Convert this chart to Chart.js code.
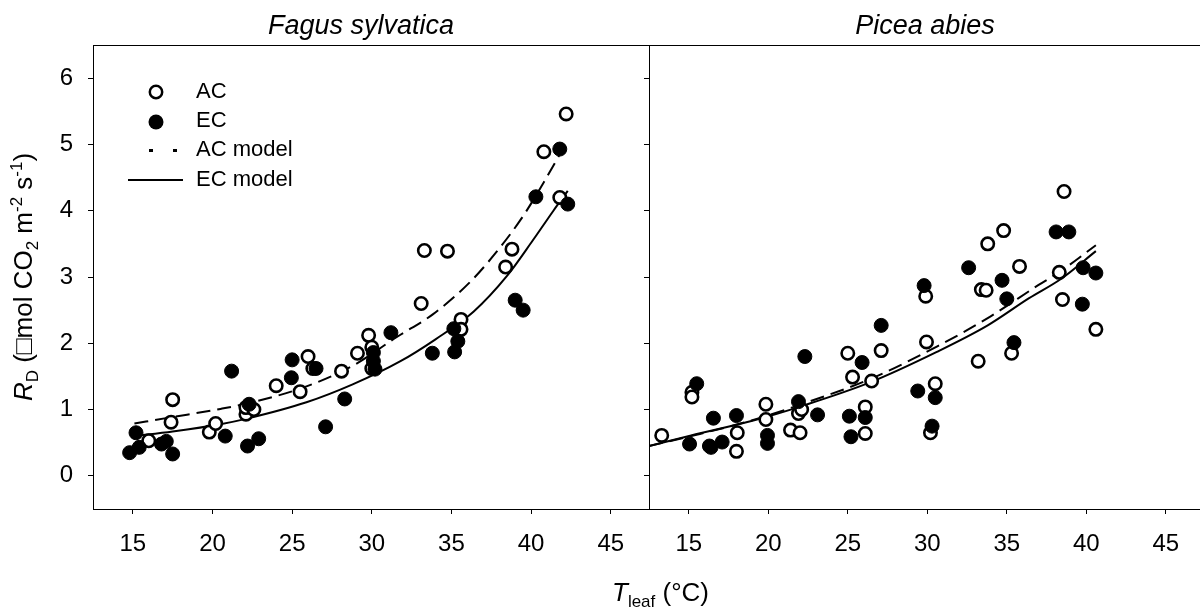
<!DOCTYPE html>
<html>
<head>
<meta charset="utf-8">
<script src="https://cdn.jsdelivr.net/npm/chart.js"></script>
<style>
html, body { margin: 0; padding: 0; background: #fff; overflow: hidden; }
#wrap { position: relative; width: 1200px; height: 608px; overflow: hidden; background: #fff; }
#wrap canvas { position: absolute; left: 0; top: 0; }
</style>
</head>
<body>
<div id="wrap">
  <canvas id="fagusChart" width="1220" height="608"></canvas>
  <canvas id="piceaChart" width="1220" height="608"></canvas>
</div>
<script>
// axis ticks (same for both panels)
const xTicks = [15, 20, 25, 30, 35, 40, 45];
const yTicks = [0, 1, 2, 3, 4, 5, 6];

// Fagus sylvatica - leaf temp (°C) vs dark respiration
const fagusAcT = [16.0, 17.4, 17.5, 19.8, 20.2, 22.1, 22.1, 22.6, 24.0, 25.5, 26.0, 26.3, 28.1, 29.1, 29.8, 30.0, 30.0, 33.1, 33.3, 34.75, 35.6, 35.6, 38.4, 38.8, 40.8, 41.8, 42.2];
const fagusAcR = [0.53, 0.81, 1.15, 0.66, 0.79, 0.93, 1.03, 1.00, 1.36, 1.27, 1.80, 1.62, 1.58, 1.85, 2.12, 1.94, 1.62, 2.60, 3.40, 3.39, 2.36, 2.21, 3.15, 3.42, 4.89, 4.20, 5.46];
const fagusEcT = [14.8, 15.2, 15.4, 16.8, 17.1, 17.5, 20.8, 21.2, 22.2, 22.3, 22.9, 24.95, 25.0, 26.5, 27.1, 28.3, 30.1, 30.1, 30.2, 31.2, 33.8, 35.15, 35.2, 35.4, 39.0, 39.5, 40.3, 41.8, 42.3];
const fagusEcR = [0.35, 0.65, 0.43, 0.48, 0.52, 0.33, 0.60, 1.58, 0.45, 1.08, 0.56, 1.48, 1.75, 1.62, 0.74, 1.16, 1.86, 1.73, 1.61, 2.16, 1.85, 2.22, 1.87, 2.03, 2.65, 2.50, 4.21, 4.93, 4.10];
const fagusAcModelT = [15.1, 17.3, 20.5, 22.5, 25.9, 28.8, 31.6, 33.85, 36.15, 37.8, 39.5, 40.8, 41.8];
const fagusAcModelR = [0.79, 0.88, 1.01, 1.11, 1.35, 1.66, 2.10, 2.44, 2.92, 3.37, 3.92, 4.43, 4.85];
const fagusEcModelT = [15.1, 17.5, 20.5, 22.1, 25.9, 28.8, 31.8, 34.0, 36.4, 38.5, 40.1, 41.4, 42.3];
const fagusEcModelR = [0.60, 0.67, 0.78, 0.86, 1.11, 1.38, 1.73, 2.06, 2.48, 3.02, 3.55, 4.00, 4.30];

// Picea abies
const piceaAcT = [13.3, 15.2, 15.2, 18.0, 18.05, 19.85, 19.85, 21.4, 21.9, 22.0, 22.1, 25.0, 25.3, 26.1, 26.1, 26.5, 27.1, 29.9, 29.95, 30.2, 30.5, 33.2, 33.4, 33.7, 33.8, 34.8, 35.3, 35.8, 38.3, 38.5, 38.6, 40.6];
const piceaAcR = [0.61, 1.26, 1.19, 0.37, 0.65, 1.08, 0.85, 0.69, 0.94, 0.65, 1.00, 1.85, 1.49, 1.04, 0.64, 1.43, 1.89, 2.71, 2.02, 0.65, 1.39, 1.73, 2.81, 2.80, 3.50, 3.70, 1.85, 3.16, 3.07, 2.66, 4.29, 2.21];
const piceaEcT = [15.05, 15.5, 16.3, 16.4, 16.55, 17.1, 18.0, 19.95, 19.95, 21.9, 22.3, 23.1, 25.1, 25.2, 25.9, 26.1, 27.1, 29.4, 29.8, 30.3, 30.5, 32.6, 34.7, 35.0, 35.45, 38.1, 38.9, 39.75, 39.8, 40.6];
const piceaEcR = [0.48, 1.39, 0.45, 0.43, 0.87, 0.51, 0.91, 0.61, 0.49, 1.12, 1.80, 0.92, 0.90, 0.59, 1.71, 0.88, 2.27, 1.28, 2.87, 0.75, 1.18, 3.14, 2.95, 2.67, 2.01, 3.68, 3.68, 2.59, 3.14, 3.06];
const piceaAcModelT = [12.5, 15.15, 19.0, 22.2, 26.4, 30.6, 33.8, 37.0, 38.4, 40.6];
const piceaAcModelR = [0.45, 0.60, 0.84, 1.09, 1.46, 1.95, 2.38, 2.88, 3.09, 3.48];
const piceaEcModelT = [12.5, 15.15, 19.0, 22.2, 26.4, 30.6, 33.8, 36.4, 38.4, 40.6];
const piceaEcModelR = [0.45, 0.61, 0.83, 1.06, 1.41, 1.87, 2.27, 2.68, 2.97, 3.39];

const fontFamily = "'Liberation Sans', Arial, Helvetica, sans-serif";
Chart.defaults.font.family = fontFamily;
Chart.defaults.color = '#000';

function pts(xs, ys) {
  return xs.map((x, i) => ({x: x, y: ys[i]}));
}

// draw text made of runs (sub/superscripts), left to right
function runsWidth(c, runs) {
  let w = 0;
  runs.forEach(r => {
    c.font = (r.italic ? 'italic ' : '') + r.size + 'px ' + fontFamily;
    w += c.measureText(r.text).width;
  });
  return w;
}
function drawRuns(c, runs, x, y) {
  runs.forEach(r => {
    c.font = (r.italic ? 'italic ' : '') + r.size + 'px ' + fontFamily;
    c.fillText(r.text, x, y + (r.dy || 0));
    x += c.measureText(r.text).width;
  });
}

// box around the plotting area
const framePlugin = {
  id: 'frame',
  afterDatasetsDraw(chart) {
    const a = chart.chartArea, c = chart.ctx;
    c.save();
    c.strokeStyle = '#000';
    c.lineWidth = 1;
    c.strokeRect(Math.round(a.left) + 0.5, Math.round(a.top) + 0.5,
                 Math.round(a.right - a.left), Math.round(a.bottom - a.top));
    c.restore();
  }
};

const yTitleRuns = [
  {text: 'R', size: 26, italic: true},
  {text: 'D', size: 17, dy: 6},
  {text: ' (\u25A1mol CO', size: 26},
  {text: '2', size: 17, dy: 6},
  {text: ' m', size: 26},
  {text: '-2', size: 17, dy: -10},
  {text: ' s', size: 26},
  {text: '-1', size: 17, dy: -10},
  {text: ')', size: 26}
];
const xTitleRuns = [
  {text: 'T', size: 26, italic: true},
  {text: 'leaf', size: 17, dy: 6},
  {text: ' (\u00B0C)', size: 26}
];

function makePanel(id, cfg) {
  const decor = {
    id: 'decor',
    afterDraw(chart) {
      const c = chart.ctx;
      c.save();
      c.fillStyle = '#000';
      c.textBaseline = 'alphabetic';
      c.textAlign = 'center';
      c.font = 'italic 27px ' + fontFamily;
      c.fillText(cfg.title, cfg.titleX, 34);
      c.textAlign = 'left';
      if (cfg.axisTitles) {
        drawRuns(c, xTitleRuns, 612, 601);
        c.save();
        c.translate(32, 277);
        c.rotate(-Math.PI / 2);
        drawRuns(c, yTitleRuns, -runsWidth(c, yTitleRuns) / 2, 0);
        c.restore();
      }
      if (cfg.legend) {
        // symbols
        c.strokeStyle = '#000';
        c.lineWidth = 2.5;
        c.beginPath(); c.arc(156, 92, 6.2, 0, 2 * Math.PI); c.stroke();
        c.beginPath(); c.arc(156, 122, 7.5, 0, 2 * Math.PI); c.fill();
        c.fillRect(149, 149, 4, 3);
        c.fillRect(173, 149, 4, 3);
        c.lineWidth = 2;
        c.beginPath(); c.moveTo(128, 180); c.lineTo(183, 180); c.stroke();
        c.font = '22px ' + fontFamily;
        c.textBaseline = 'middle';
        c.fillText('AC', 196, 92);
        c.fillText('EC', 196, 121);
        c.fillText('AC model', 196, 150);
        c.fillText('EC model', 196, 180);
      }
      c.restore();
    }
  };

  const tickGrid = {
    display: true, drawOnChartArea: false, drawTicks: true,
    tickLength: 5, tickColor: '#000', tickWidth: 1
  };

  return new Chart(document.getElementById(id), {
    type: 'scatter',
    data: {
      datasets: [
        {label: 'EC', data: pts(cfg.ecT, cfg.ecR), order: 0, showLine: false,
         pointRadius: 7, pointBackgroundColor: '#000', pointBorderColor: '#000', pointBorderWidth: 1},
        {label: 'AC', data: pts(cfg.acT, cfg.acR), order: 1, showLine: false,
         pointRadius: 6.2, pointBackgroundColor: '#fff', pointBorderColor: '#000', pointBorderWidth: 2.6},
        {label: 'AC model', data: pts(cfg.acModelT, cfg.acModelR), order: 2, showLine: true,
         pointRadius: 0, borderColor: '#000', borderWidth: 2, borderDash: [14, 7],
         cubicInterpolationMode: 'monotone', fill: false},
        {label: 'EC model', data: pts(cfg.ecModelT, cfg.ecModelR), order: 3, showLine: true,
         pointRadius: 0, borderColor: '#000', borderWidth: 2,
         cubicInterpolationMode: 'monotone', fill: false}
      ]
    },
    options: {
      responsive: false,
      devicePixelRatio: 1,
      animation: false,
      events: [],
      layout: {padding: {left: 0, top: 45, right: 1220 - cfg.right, bottom: 0}},
      plugins: {legend: {display: false}, tooltip: {enabled: false}},
      scales: {
        x: {
          type: 'linear', min: 12.5, max: 47.4,
          afterBuildTicks: s => { s.ticks = xTicks.map(v => ({value: v})); },
          afterFit: s => { s.height = 99; },
          ticks: {font: {size: 24}, color: '#000', padding: 16, maxRotation: 0},
          grid: tickGrid,
          border: {display: false}
        },
        y: {
          type: 'linear', min: -0.5, max: 6.5,
          afterBuildTicks: s => { s.ticks = yTicks.map(v => ({value: v})); },
          afterFit: s => { s.width = cfg.left; },
          ticks: {display: cfg.yLabels, font: {size: 24}, color: '#000', padding: 15},
          grid: tickGrid,
          border: {display: false}
        }
      }
    },
    plugins: [framePlugin, decor]
  });
}

makePanel('fagusChart', {
  left: 93, right: 649, yLabels: true, legend: true, axisTitles: true,
  title: 'Fagus sylvatica', titleX: 361,
  acT: fagusAcT, acR: fagusAcR, ecT: fagusEcT, ecR: fagusEcR,
  acModelT: fagusAcModelT, acModelR: fagusAcModelR,
  ecModelT: fagusEcModelT, ecModelR: fagusEcModelR
});

makePanel('piceaChart', {
  left: 649, right: 1204, yLabels: false, legend: false, axisTitles: false,
  title: 'Picea abies', titleX: 925,
  acT: piceaAcT, acR: piceaAcR, ecT: piceaEcT, ecR: piceaEcR,
  acModelT: piceaAcModelT, acModelR: piceaAcModelR,
  ecModelT: piceaEcModelT, ecModelR: piceaEcModelR
});
</script>
</body>
</html>
